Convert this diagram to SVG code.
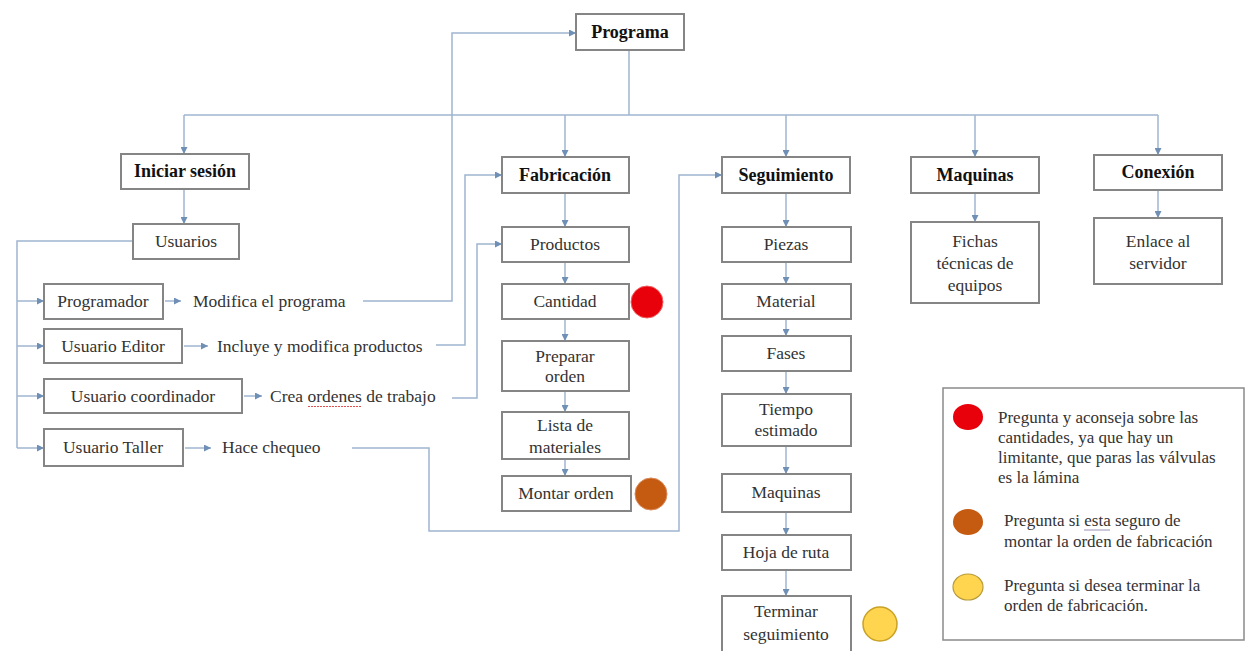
<svg xmlns="http://www.w3.org/2000/svg" width="1247" height="651" viewBox="0 0 1247 651" font-family="'Liberation Serif', 'DejaVu Serif', serif">
<defs>
<marker id="ah" viewBox="0 0 10 10" refX="10" refY="5" markerWidth="7" markerHeight="7" markerUnits="userSpaceOnUse" orient="auto">
<path d="M0,0 L10,5 L0,10 z" fill="#6f8fb5"/>
</marker>
<style>
.box{fill:#ffffff;stroke:#858585;stroke-width:2}
.ln{fill:none;stroke:#9fb5d0;stroke-width:1.5}
.ar{fill:none;stroke:#9fb5d0;stroke-width:1.5;marker-end:url(#ah)}
text{font-family:'Liberation Serif','DejaVu Serif',serif}
.h{font-weight:bold;font-size:18px;fill:#111;text-anchor:middle}
.t{font-size:17.5px;fill:#333;text-anchor:middle}
.s{font-size:17.5px;fill:#333}
.lg{font-size:17px;fill:#333}
</style>
</defs>
<rect width="1247" height="651" fill="#ffffff"/>

<g id="connectors">
<polyline class="ln" points="629,50 629,115"/>
<polyline class="ln" points="184,115 1158,115"/>
<polyline class="ar" points="184,115 184,154"/>
<polyline class="ar" points="565,115 565,157"/>
<polyline class="ar" points="786,115 786,157"/>
<polyline class="ar" points="975,115 975,157"/>
<polyline class="ar" points="1158,115 1158,155"/>
<polyline class="ar" points="975,193 975,222"/>
<polyline class="ar" points="1158,190 1158,218"/>
<polyline class="ar" points="184,189 184,224"/>
<polyline class="ln" points="133,241 17,241 17,448"/>
<polyline class="ar" points="17,301 44,301"/>
<polyline class="ar" points="17,346 44,346"/>
<polyline class="ar" points="17,396 44,396"/>
<polyline class="ar" points="17,448 44,448"/>
<polyline class="ar" points="165,301 181,301"/>
<polyline class="ar" points="184,346 208,346"/>
<polyline class="ar" points="244,396 262,396"/>
<polyline class="ar" points="185,448 211,448"/>
<polyline class="ar" points="363,301 452,301 452,33 576,33"/>
<polyline class="ar" points="436,345 465,345 465,175 502,175"/>
<polyline class="ar" points="452,398 477,398 477,244 502,244"/>
<polyline class="ar" points="352,448 429,448 429,531 679,531 679,175 722,175"/>
<polyline class="ar" points="565,193 565,227"/>
<polyline class="ar" points="565,262 565,284"/>
<polyline class="ar" points="565,319 565,341"/>
<polyline class="ar" points="565,391 565,412"/>
<polyline class="ar" points="565,459 565,476"/>
<polyline class="ar" points="786,193 786,227"/>
<polyline class="ar" points="786,262 786,284"/>
<polyline class="ar" points="786,319 786,336"/>
<polyline class="ar" points="786,371 786,394"/>
<polyline class="ar" points="786,446 786,474"/>
<polyline class="ar" points="786,512 786,535"/>
<polyline class="ar" points="786,570 786,596"/>
</g>

<g id="programa"><rect class="box" x="576" y="14" width="108" height="36"/><text class="h" x="630" y="38">Programa</text></g>
<g id="iniciar-sesion"><rect class="box" x="121" y="154" width="128" height="35"/><text class="h" x="185" y="177">Iniciar sesión</text></g>
<g id="fabricacion"><rect class="box" x="502" y="157" width="127" height="36"/><text class="h" x="565" y="181">Fabricación</text></g>
<g id="seguimiento"><rect class="box" x="722" y="157" width="128" height="36"/><text class="h" x="786" y="181">Seguimiento</text></g>
<g id="maquinas"><rect class="box" x="911" y="157" width="128" height="36"/><text class="h" x="975" y="181">Maquinas</text></g>
<g id="conexion"><rect class="box" x="1094" y="155" width="128" height="35"/><text class="h" x="1158" y="178">Conexión</text></g>
<g id="fichas"><rect class="box" x="911" y="222" width="128" height="81"/><text class="t" x="975" y="247">Fichas</text><text class="t" x="975" y="269">técnicas de</text><text class="t" x="975" y="291">equipos</text></g>
<g id="enlace"><rect class="box" x="1094" y="218" width="128" height="66"/><text class="t" x="1158" y="247">Enlace al</text><text class="t" x="1158" y="269">servidor</text></g>

<g id="usuarios"><rect class="box" x="133" y="224" width="106" height="35"/><text class="t" x="186" y="247">Usuarios</text></g>
<g id="programador"><rect class="box" x="44" y="284" width="119" height="35"/><text class="t" x="103" y="307">Programador</text></g>
<g id="usuario-editor"><rect class="box" x="44" y="329" width="138" height="34"/><text class="t" x="113" y="352">Usuario Editor</text></g>
<g id="usuario-coordinador"><rect class="box" x="44" y="379" width="198" height="34"/><text class="t" x="143" y="402">Usuario coordinador</text></g>
<g id="usuario-taller"><rect class="box" x="44" y="429" width="139" height="37"/><text class="t" x="113" y="453">Usuario Taller</text></g>

<g id="modifica"><text class="s" x="193" y="307">Modifica el programa</text></g>
<g id="incluye"><text class="s" x="217" y="352">Incluye y modifica productos</text></g>
<g id="crea"><text class="s" x="270" y="402">Crea ordenes de trabajo</text><line x1="308" y1="406.5" x2="362" y2="406.5" stroke="#e05050" stroke-width="1" stroke-dasharray="2,1"/></g>
<g id="hace"><text class="s" x="222" y="453">Hace chequeo</text></g>

<g id="productos"><rect class="box" x="502" y="227" width="127" height="35"/><text class="t" x="565" y="250">Productos</text></g>
<g id="cantidad"><rect class="box" x="502" y="284" width="127" height="35"/><text class="t" x="565" y="307">Cantidad</text></g>
<g id="preparar"><rect class="box" x="502" y="341" width="127" height="50"/><text class="t" x="565" y="362">Preparar</text><text class="t" x="565" y="382">orden</text></g>
<g id="lista"><rect class="box" x="502" y="412" width="127" height="47"/><text class="t" x="565" y="431">Lista de</text><text class="t" x="565" y="453">materiales</text></g>
<g id="montar"><rect class="box" x="502" y="476" width="129" height="35"/><text class="t" x="566" y="499">Montar orden</text></g>
<g id="circ-red"><circle cx="647" cy="302" r="16" fill="#e8000b" stroke="#f06060" stroke-width="1"/></g>
<g id="circ-brown"><circle cx="651" cy="494" r="16" fill="#c55a11" stroke="#d88a5a" stroke-width="1"/></g>

<g id="piezas"><rect class="box" x="722" y="227" width="129" height="35"/><text class="t" x="786" y="250">Piezas</text></g>
<g id="material"><rect class="box" x="722" y="284" width="129" height="35"/><text class="t" x="786" y="307">Material</text></g>
<g id="fases"><rect class="box" x="722" y="336" width="129" height="35"/><text class="t" x="786" y="359">Fases</text></g>
<g id="tiempo"><rect class="box" x="722" y="394" width="129" height="52"/><text class="t" x="786" y="415">Tiempo</text><text class="t" x="786" y="436">estimado</text></g>
<g id="maquinas2"><rect class="box" x="722" y="474" width="129" height="38"/><text class="t" x="786" y="498">Maquinas</text></g>
<g id="hoja"><rect class="box" x="722" y="535" width="129" height="35"/><text class="t" x="786" y="558">Hoja de ruta</text></g>
<g id="terminar"><rect class="box" x="722" y="596" width="129" height="70"/><text class="t" x="786" y="617">Terminar</text><text class="t" x="786" y="640">seguimiento</text></g>
<g id="circ-yellow"><circle cx="880" cy="624" r="17" fill="#ffd54f" stroke="#c9a227" stroke-width="1.5"/></g>

<g id="legend">
<rect x="943" y="388" width="301" height="252" fill="#ffffff" stroke="#8a8a8a" stroke-width="1.5"/>
<ellipse cx="968" cy="417" rx="15" ry="13" fill="#e8000b"/>
<ellipse cx="968" cy="522" rx="15" ry="13" fill="#c55a11"/>
<ellipse cx="968" cy="587" rx="15" ry="13" fill="#ffd54f" stroke="#b89a3a" stroke-width="1.2"/>
<text class="lg" x="998" y="423">Pregunta y aconseja sobre las</text>
<text class="lg" x="998" y="443">cantidades, ya que hay un</text>
<text class="lg" x="998" y="463">limitante, que paras las válvulas</text>
<text class="lg" x="998" y="483">es la lámina</text>
<text class="lg" x="1004" y="526">Pregunta si esta seguro de</text>
<line x1="1084" y1="530" x2="1110" y2="530" stroke="#9c90b8" stroke-width="1"/>
<text class="lg" x="1004" y="547">montar la orden de fabricación</text>
<text class="lg" x="1004" y="591">Pregunta si desea terminar la</text>
<text class="lg" x="1004" y="611">orden de fabricación.</text>
</g>
</svg>
